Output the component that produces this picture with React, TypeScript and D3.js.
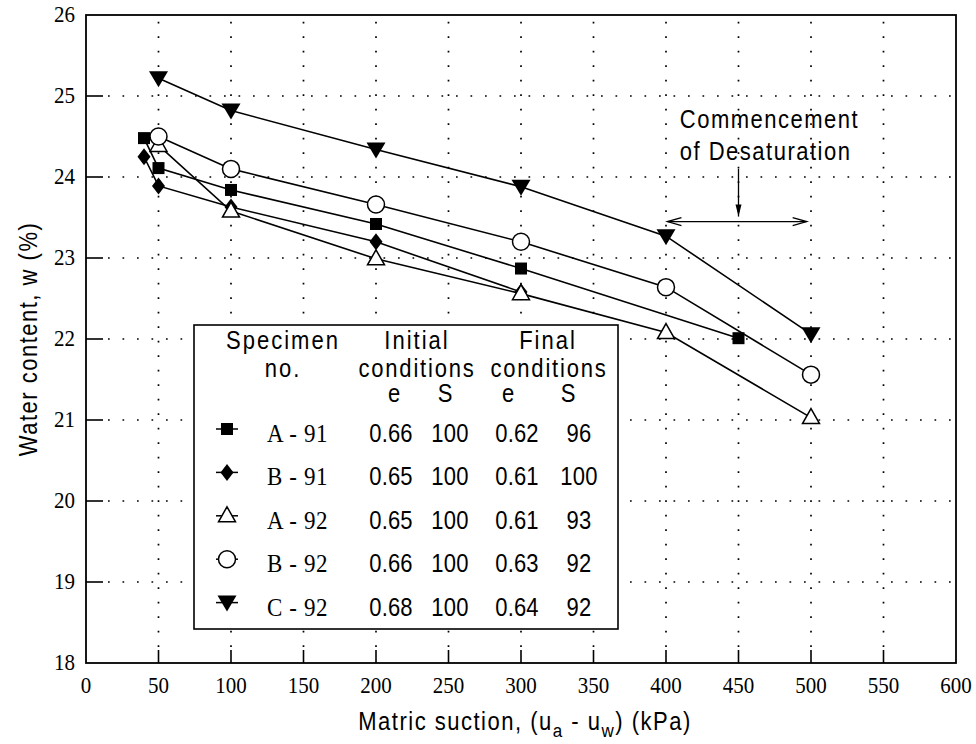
import React from "react";
import * as d3 from "d3";

// ---- axis ticks ----
const xTicks = [0, 50, 100, 150, 200, 250, 300, 350, 400, 450, 500, 550, 600];
const yTicks = [18, 19, 20, 21, 22, 23, 24, 25, 26];

// ---- series (matric suction kPa, water content %) ----
const a91X = [40, 50, 100, 200, 300, 450];
const a91W = [24.48, 24.11, 23.84, 23.42, 22.87, 22.01];
const b91X = [40, 50, 100, 200, 300];
const b91W = [24.25, 23.89, 23.63, 23.2, 22.58];
const a92X = [50, 100, 200, 300, 400, 500];
const a92W = [24.39, 23.58, 22.99, 22.56, 22.08, 21.03];
const b92X = [50, 100, 200, 300, 400, 500];
const b92W = [24.5, 24.1, 23.66, 23.2, 22.64, 21.56];
const c92X = [50, 100, 200, 300, 400, 500];
const c92W = [25.22, 24.82, 24.34, 23.88, 23.27, 22.06];

// ---- legend table ----
const specimens = ["A - 91", "B - 91", "A - 92", "B - 92", "C - 92"];
const markerKinds = ["square", "diamond", "triangleUp", "circle", "triangleDown"];
const initE = ["0.66", "0.65", "0.65", "0.66", "0.68"];
const initS = ["100", "100", "100", "100", "100"];
const finalE = ["0.62", "0.61", "0.61", "0.63", "0.64"];
const finalS = ["96", "100", "93", "92", "92"];

const seriesList = [
  { xs: a91X, ws: a91W, kind: markerKinds[0] },
  { xs: b91X, ws: b91W, kind: markerKinds[1] },
  { xs: a92X, ws: a92W, kind: markerKinds[2] },
  { xs: b92X, ws: b92W, kind: markerKinds[3] },
  { xs: c92X, ws: c92W, kind: markerKinds[4] },
];

const W = 976;
const H = 744;
const x = d3.scaleLinear().domain([0, 600]).range([86, 956]);
const y = d3.scaleLinear().domain([18, 26]).range([663, 15]);

const SANS = "'Liberation Sans', Arial, Helvetica, sans-serif";
const SERIF = "'Liberation Serif', 'Times New Roman', serif";
const SY = 1.13;

function T({
  x: tx,
  y: ty,
  children,
  anchor = "start",
  size = 22,
  ls = 0,
  family = SANS,
  sy = SY,
}: {
  x: number;
  y: number;
  children: React.ReactNode;
  anchor?: string;
  size?: number;
  ls?: number;
  family?: string;
  sy?: number;
}) {
  return (
    <text
      transform={`translate(${tx},${ty}) scale(1,${sy})`}
      textAnchor={anchor as any}
      fontFamily={family}
      fontSize={size}
      letterSpacing={ls}
      fill="#000"
    >
      {children}
    </text>
  );
}

function Marker({ kind, cx, cy }: { kind: string; cx: number; cy: number }) {
  const sw = 1.5;
  if (kind === "square") {
    return <rect x={cx - 6} y={cy - 6} width={12} height={12} fill="#000" />;
  }
  if (kind === "diamond") {
    const p = `M${cx},${cy - 8.5}L${cx + 6.5},${cy}L${cx},${cy + 8.5}L${cx - 6.5},${cy}Z`;
    return <path d={p} fill="#000" />;
  }
  if (kind === "triangleUp") {
    const p = `M${cx},${cy - 9}L${cx + 8.5},${cy + 6}L${cx - 8.5},${cy + 6}Z`;
    return <path d={p} fill="#fff" stroke="#000" strokeWidth={sw} />;
  }
  if (kind === "circle") {
    return <circle cx={cx} cy={cy} r={8.5} fill="#fff" stroke="#000" strokeWidth={sw} />;
  }
  const p = `M${cx - 9.5},${cy - 7}L${cx + 9.5},${cy - 7}L${cx},${cy + 9}Z`;
  return <path d={p} fill="#000" />;
}

export default function App() {
  const line = d3
    .line<[number, number]>()
    .x((d) => x(d[0]))
    .y((d) => y(d[1]));

  const gridX = xTicks.filter((t) => t > 0 && t < 600);
  const gridY = yTicks.filter((t) => t > 18 && t < 26);

  // annotation geometry (data units)
  const arrY = y(23.45);
  const arrX1 = x(401);
  const arrX2 = x(497);
  const vX = x(450);
  const vTop = y(24.1);
  const vBot = arrY - 5;

  const rowBase = (i: number) => 442 + i * 43.4;

  return (
    <svg
      width={W}
      height={H}
      style={{ position: "absolute", left: 0, top: 0, background: "#fff" }}
    >
      <rect x={0} y={0} width={W} height={H} fill="#fff" />
      {/* grid */}
      <g stroke="#000" strokeWidth={1.7} strokeDasharray="1.7 12.8">
        {gridX.map((t) => (
          <line key={"gx" + t} x1={x(t)} x2={x(t)} y1={y(18) - 16} y2={y(26)} />
        ))}
        {gridY.map((t) => (
          <line key={"gy" + t} x1={x(0) + 22} x2={x(600)} y1={y(t)} y2={y(t)} />
        ))}
      </g>

      {/* series lines */}
      {seriesList.map((s, i) => (
        <path
          key={"l" + i}
          d={line(s.xs.map((v, j) => [v, s.ws[j]] as [number, number])) || ""}
          fill="none"
          stroke="#000"
          strokeWidth={1.6}
        />
      ))}
      {/* markers */}
      {seriesList.map((s, i) =>
        s.xs.map((v, j) => (
          <Marker key={"m" + i + "-" + j} kind={s.kind} cx={x(v)} cy={y(s.ws[j])} />
        ))
      )}

      {/* annotation */}
      <g stroke="#000" strokeWidth={1.3} fill="none">
        <line x1={arrX1} x2={arrX2} y1={arrY} y2={arrY} />
        <path d={`M${arrX1 + 14},${arrY - 4}L${arrX1},${arrY}L${arrX1 + 14},${arrY + 4}`} />
        <path d={`M${arrX2 - 14},${arrY - 4}L${arrX2},${arrY}L${arrX2 - 14},${arrY + 4}`} />
        <line x1={vX} x2={vX} y1={vTop} y2={vBot} />
      </g>
      <path d={`M${vX - 3},${vBot - 12}L${vX},${vBot}L${vX + 3},${vBot - 12}Z`} fill="#000" />
      <T x={x(409.5)} y={y(24.6)} ls={1.5}>Commencement</T>
      <T x={x(409.5)} y={y(24.21)} ls={1.5}>of Desaturation</T>

      {/* legend */}
      <rect x={194} y={325} width={424} height={304} fill="#fff" stroke="#000" strokeWidth={1.6} />
      <T x={283} y={349} anchor="middle" ls={2}>Specimen</T>
      <T x={283} y={377} anchor="middle" ls={2}>no.</T>
      <T x={417} y={349} anchor="middle" ls={2}>Initial</T>
      <T x={417} y={377} anchor="middle" ls={1.8}>conditions</T>
      <T x={548} y={349} anchor="middle" ls={2}>Final</T>
      <T x={549} y={377} anchor="middle" ls={1.8}>conditions</T>
      <T x={394} y={402} anchor="middle">e</T>
      <T x={445} y={402} anchor="middle">S</T>
      <T x={508} y={402} anchor="middle">e</T>
      <T x={568} y={402} anchor="middle">S</T>
      {specimens.map((sp, i) => {
        const b = rowBase(i);
        return (
          <g key={"lg" + i}>
            <line x1={216} x2={238} y1={b - 13} y2={b - 13} stroke="#000" strokeWidth={1.5} />
            <Marker kind={markerKinds[i]} cx={227} cy={b - 13} />
            <T x={267} y={b} family={SERIF} size={23} ls={0.6}>{sp}</T>
            <T x={391} y={b} anchor="middle" ls={0.2}>{initE[i]}</T>
            <T x={450} y={b} anchor="middle" ls={0.2}>{initS[i]}</T>
            <T x={517} y={b} anchor="middle" ls={0.2}>{finalE[i]}</T>
            <T x={579} y={b} anchor="middle" ls={0.2}>{finalS[i]}</T>
          </g>
        );
      })}

      {/* frame */}
      <rect x={x(0)} y={y(26)} width={x(600) - x(0)} height={y(18) - y(26)} fill="none" stroke="#000" strokeWidth={1.8} />
      {/* ticks */}
      <g stroke="#000" strokeWidth={1.6}>
        {gridY.map((t) => (
          <line key={"ty" + t} x1={x(0)} x2={x(0) + 17} y1={y(t)} y2={y(t)} />
        ))}
        {gridX.map((t) => (
          <line key={"tx" + t} x1={x(t)} x2={x(t)} y1={y(18)} y2={y(18) - 13} />
        ))}
      </g>
      {/* tick labels */}
      {yTicks.map((t) => (
        <T key={"ly" + t} x={x(0) - 11} y={y(t) + 7} anchor="end" family={SERIF} size={21} sy={1.08}>
          {t}
        </T>
      ))}
      {xTicks.map((t) => (
        <T key={"lx" + t} x={x(t)} y={y(18) + 30} anchor="middle" family={SERIF} size={21} sy={1.08}>
          {t}
        </T>
      ))}
      {/* axis titles */}
      <text
        transform={`translate(37, ${(y(18) + y(26)) / 2}) rotate(-90) scale(1,${SY})`}
        textAnchor="middle"
        fontFamily={SANS}
        fontSize={22}
        letterSpacing={1.5}
      >
        Water content, w (%)
      </text>
      <text
        transform={`translate(${(x(0) + x(600)) / 2 + 4}, 730) scale(1,${SY})`}
        textAnchor="middle"
        fontFamily={SANS}
        fontSize={22}
        letterSpacing={1.5}
      >
        Matric suction, (u
        <tspan fontSize={17} dy={6}>a</tspan>
        <tspan dy={-6}> - u</tspan>
        <tspan fontSize={17} dy={6}>w</tspan>
        <tspan dy={-6}>) (kPa)</tspan>
      </text>
    </svg>
  );
}
